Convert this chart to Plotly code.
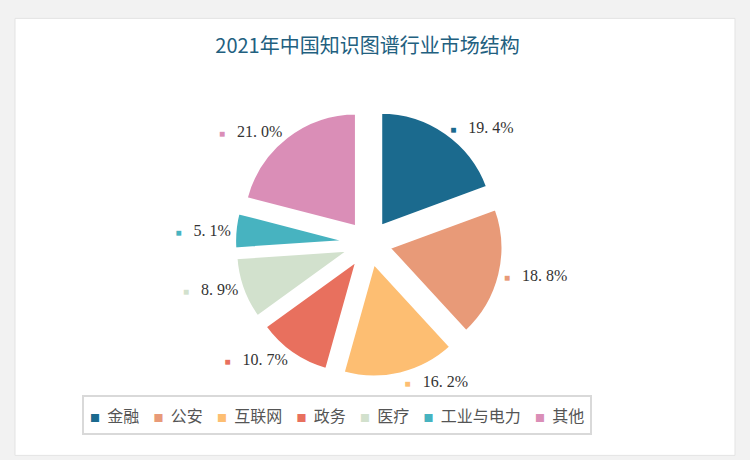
import plotly.graph_objects as go

categories = ["金融", "公安", "互联网", "政务", "医疗", "工业与电力", "其他"]
values = [19.4, 18.8, 16.2, 10.7, 8.9, 5.1, 21.0]
colors = ["#1b6a8e", "#e89a78", "#fdbe72", "#e8705e", "#d2e1cd", "#47b3c0", "#da8eb7"]
value_labels = ["19. 4%", "18. 8%", "16. 2%", "10. 7%", "8. 9%", "5. 1%", "21. 0%"]

texts = [f"<span style='color:{c};font-size:10px'>■</span>   {t}" for c, t in zip(colors, value_labels)]

fig = go.Figure()
fig.add_trace(go.Pie(
    labels=categories,
    values=values,
    text=texts,
    texttemplate="%{text}",
    textposition="outside",
    textfont=dict(family="Liberation Serif, Noto Sans CJK SC", size=16, color="#333333"),
    marker=dict(colors=colors, line=dict(color="white", width=3)),
    pull=[0.18] * len(values),
    sort=False,
    direction="clockwise",
    rotation=0,
    hoverinfo="label+percent",
    showlegend=False,
    domain=dict(x=[0.3127, 0.6713], y=[0.179, 0.764]),
))

legend_text = "    ".join(
    f"<span style='color:{c};font-size:10px'>■</span>  {cat}" for c, cat in zip(colors, categories)
)

fig.update_layout(
    width=750, height=460,
    margin=dict(l=0, r=0, t=0, b=0),
    paper_bgcolor="#f2f2f2",
    plot_bgcolor="white",
    title=dict(text="2021年中国知识图谱行业市场结构", x=0.49, xanchor="center", y=0.9, yanchor="middle",
               font=dict(family="Noto Sans CJK SC", size=20, color="#22607f")),
    showlegend=False,
    annotations=[dict(text=legend_text, xref="paper", yref="paper", x=0.449, y=0.098,
                      xanchor="center", yanchor="middle", showarrow=False,
                      font=dict(family="Noto Sans CJK SC", size=16, color="#555555"),
                      bordercolor="#d9d9d9", borderwidth=2, borderpad=6, bgcolor="white")],
    shapes=[dict(type="rect", xref="paper", yref="paper", x0=0.02, x1=0.98, y0=0.01, y1=0.96,
                 fillcolor="white", line=dict(color="#e3e3e3", width=1), layer="below")],
)

fig.write_html("out.html", post_script="document.body.style.margin='0';",
               config={"displayModeBar": False})
